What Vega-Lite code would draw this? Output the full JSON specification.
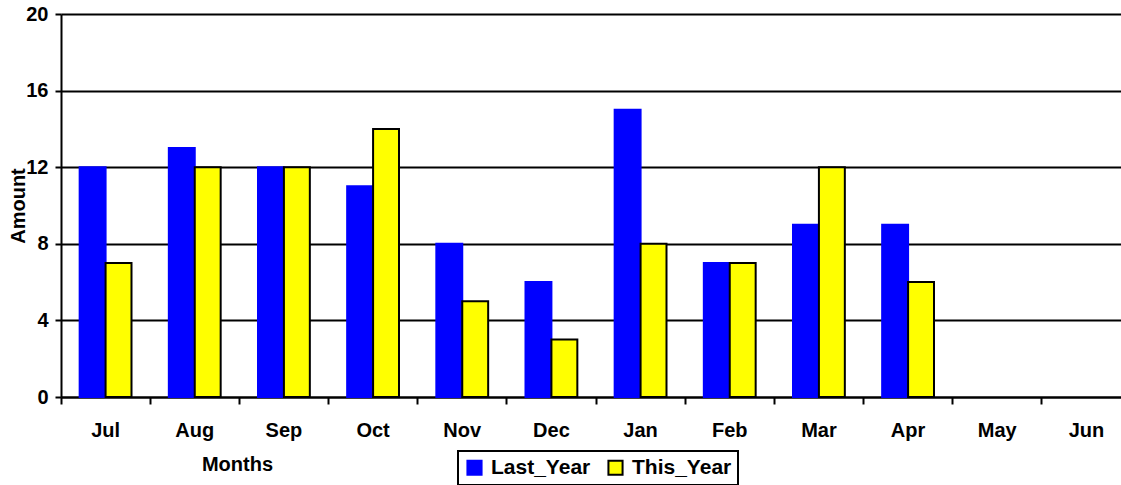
{
  "$schema": "https://vega.github.io/schema/vega-lite/v6.json",
  "width": 1070,
  "height": 383,
  "autosize": {"type": "none"},
  "padding": {"left": 61, "top": 14, "right": 0, "bottom": 88},
  "background": "white",
  "config": {
    "view": {"stroke": null},
    "font": "Liberation Sans",
    "axis": {"labelFont": "Liberation Sans", "titleFont": "Liberation Sans", "labelFontWeight": "bold", "titleFontWeight": "bold", "labelColor": "black", "titleColor": "black", "domainColor": "black", "tickColor": "black", "gridColor": "black"}
  },
  "data": {
    "values": [
      {"month": "Jul", "series": "Last_Year", "value": 12},
      {"month": "Jul", "series": "This_Year", "value": 7},
      {"month": "Aug", "series": "Last_Year", "value": 13},
      {"month": "Aug", "series": "This_Year", "value": 12},
      {"month": "Sep", "series": "Last_Year", "value": 12},
      {"month": "Sep", "series": "This_Year", "value": 12},
      {"month": "Oct", "series": "Last_Year", "value": 11},
      {"month": "Oct", "series": "This_Year", "value": 14},
      {"month": "Nov", "series": "Last_Year", "value": 8},
      {"month": "Nov", "series": "This_Year", "value": 5},
      {"month": "Dec", "series": "Last_Year", "value": 6},
      {"month": "Dec", "series": "This_Year", "value": 3},
      {"month": "Jan", "series": "Last_Year", "value": 15},
      {"month": "Jan", "series": "This_Year", "value": 8},
      {"month": "Feb", "series": "Last_Year", "value": 7},
      {"month": "Feb", "series": "This_Year", "value": 7},
      {"month": "Mar", "series": "Last_Year", "value": 9},
      {"month": "Mar", "series": "This_Year", "value": 12},
      {"month": "Apr", "series": "Last_Year", "value": 9},
      {"month": "Apr", "series": "This_Year", "value": 6}
    ]
  },
  "mark": {"type": "bar", "strokeWidth": 2},
  "encoding": {
    "x": {
      "field": "month",
      "type": "nominal",
      "sort": null,
      "scale": {"domain": ["Jul", "Aug", "Sep", "Oct", "Nov", "Dec", "Jan", "Feb", "Mar", "Apr", "May", "Jun"], "paddingInner": 0, "paddingOuter": 0},
      "axis": {
        "title": "Months",
        "titleFontSize": 20,
        "titleX": 176,
        "titleY": 67,
        "titleAnchor": "middle",
        "titleAlign": "center",
        "titleBaseline": "middle",
        "labelFontSize": 20,
        "labelAngle": 0,
        "bandPosition": 0,
        "labelPadding": 16,
        "domainWidth": 2,
        "tickWidth": 2,
        "tickSize": 7,
        "grid": false
      }
    },
    "xOffset": {
      "field": "series",
      "type": "nominal",
      "scale": {"paddingInner": 0, "paddingOuter": 0.72}
    },
    "y": {
      "field": "value",
      "type": "quantitative",
      "scale": {"domain": [0, 20]},
      "axis": {
        "title": "Amount",
        "titleFontSize": 20,
        "titleX": -43,
        "titleBaseline": "middle",
        "titleAnchor": "middle",
        "titlePadding": 0,
        "values": [0, 4, 8, 12, 16, 20],
        "labelFontSize": 20,
        "labelPadding": 7,
        "domainWidth": 2,
        "tickWidth": 2,
        "tickSize": 6,
        "grid": true,
        "gridWidth": 2
      }
    },
    "fill": {
      "field": "series",
      "type": "nominal",
      "scale": {"domain": ["Last_Year", "This_Year"], "range": ["#0000FF", "#FFFF00"]},
      "legend": {
        "title": null,
        "orient": "none",
        "legendX": 397,
        "legendY": 437,
        "direction": "horizontal",
        "columns": 2,
        "symbolType": "square",
        "symbolSize": 200,
        "symbolStrokeWidth": 2,
        "labelFont": "Liberation Sans",
        "labelFontSize": 21,
        "labelFontWeight": "bold",
        "labelColor": "black",
        "strokeColor": "black",
        "padding": 6,
        "columnPadding": 13,
        "labelOffset": 6,
        "fillColor": "white",
        "encode": {"legend": {"update": {"strokeWidth": {"value": 2}}}}
      }
    },
    "stroke": {
      "field": "series",
      "type": "nominal",
      "scale": {"domain": ["Last_Year", "This_Year"], "range": ["#0000FF", "#000000"]}
    }
  }
}
